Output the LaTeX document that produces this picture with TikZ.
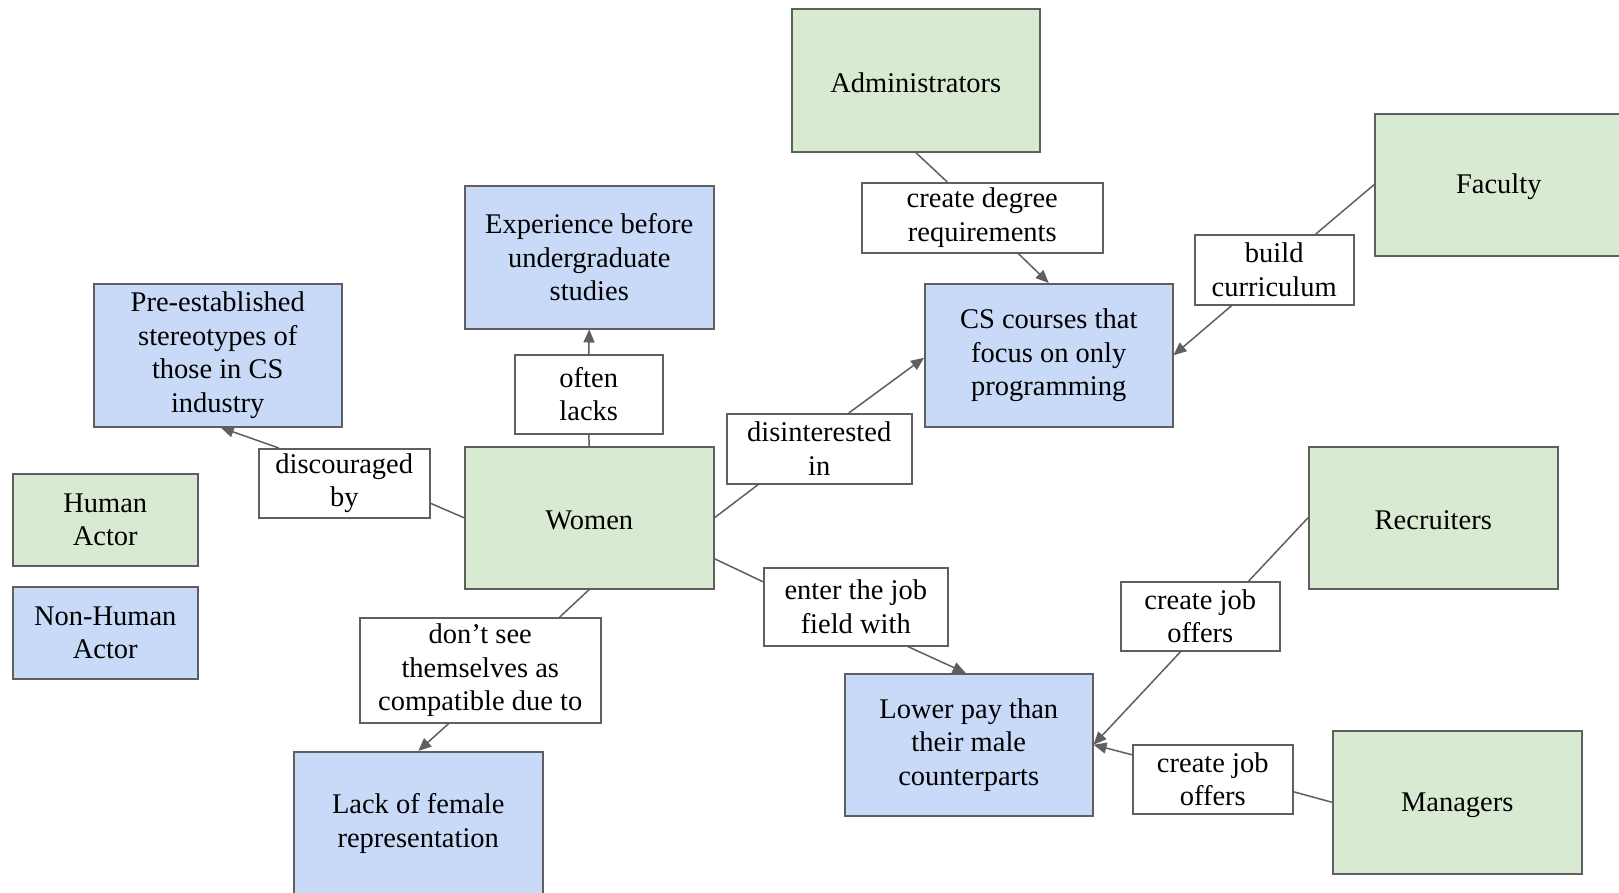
\documentclass[tikz,border=0pt]{standalone}
\usepackage{fontspec}
\setmainfont{Liberation Serif}
\usetikzlibrary{arrows.meta,calc}
\definecolor{actorgreen}{HTML}{D9EAD3}
\definecolor{nonblue}{HTML}{C9DAF8}
\definecolor{edgegray}{HTML}{5F5F5F}
\newcommand{\mystrut}{\rule{0pt}{24pt}}
\tikzset{
 box/.style={draw=edgegray, line width=1.5pt, anchor=north west, inner sep=0pt, align=center, font=\fontsize{28.5}{33.5}\selectfont,
   execute at begin node=\mystrut},
 actor/.style={box, fill=actorgreen},
 thing/.style={box, fill=nonblue},
 lbl/.style={box, fill=white},
 link/.style={draw=edgegray, line width=1.5pt},
 arr/.style={link, -{Triangle[length=13pt,width=11pt]}},
}
\begin{document}
\begin{tikzpicture}[x=1pt,y=-1pt]
\useasboundingbox (0,0) rectangle (1619,892);
\fill[white] (0,0) rectangle (1619,892);
\clip (0,0) rectangle (1619,892);

\node[thing, minimum width=248pt, minimum height=143pt] (pre) at (93,283) {Pre-established\\stereotypes of\\those in CS\\industry};
\node[actor, minimum width=185pt, minimum height=92pt] (human) at (12,473) {Human\\Actor};
\node[thing, minimum width=185pt, minimum height=92pt] (nonhuman) at (12,586) {Non-Human\\Actor};
\node[lbl, minimum width=171pt, minimum height=69pt] (disc) at (258,448) {discouraged\\by};
\node[actor, minimum width=249pt, minimum height=142pt] (women) at (464,446) {Women};
\node[thing, minimum width=249pt, minimum height=143pt] (exp) at (464,185) {Experience before\\undergraduate\\studies};
\node[lbl, minimum width=148pt, minimum height=79pt] (often) at (514,354) {often\\lacks};
\node[lbl, minimum width=185pt, minimum height=70pt] (disint) at (726,413) {disinterested\\in};
\node[actor, minimum width=248pt, minimum height=143pt] (admin) at (791,8) {Administrators};
\node[lbl, minimum width=241pt, minimum height=70pt] (cdr) at (861,182) {create degree\\requirements};
\node[thing, minimum width=248pt, minimum height=143pt] (cs) at (924,283) {CS courses that\\focus on only\\programming};
\node[actor, minimum width=248pt, minimum height=142pt] (faculty) at (1374,113) {Faculty};
\node[lbl, minimum width=159pt, minimum height=70pt] (build) at (1194,234) {build\\curriculum};
\node[lbl, minimum width=241pt, minimum height=105pt] (dontsee) at (359,617) {don’t see\\themselves as\\compatible due to};
\node[thing, minimum width=249pt, minimum height=143pt] (lack) at (293,751) {Lack of female\\representation};
\node[lbl, minimum width=184pt, minimum height=78pt] (enter) at (763,567) {enter the job\\field with};
\node[thing, minimum width=248pt, minimum height=142pt] (lower) at (844,673) {Lower pay than\\their male\\counterparts};
\node[actor, minimum width=249pt, minimum height=142pt] (recr) at (1308,446) {Recruiters};
\node[lbl, minimum width=159pt, minimum height=69pt] (cjo1) at (1120,581) {create job\\offers};
\node[lbl, minimum width=160pt, minimum height=69pt] (cjo2) at (1132,744) {create job\\offers};
\node[actor, minimum width=249pt, minimum height=143pt] (managers) at (1332,730) {Managers};

% connectors
\draw[link] (women.west) -- ($(disc.east)+(0,20)$);
\draw[arr] ($(disc.north)+(-65.5,0)$) -- ($(pre.south)+(3,0)$);
\draw[link] (women.north) -- (often.south);
\draw[arr] (often.north) -- (exp.south);
\draw[link] (women.east) -- ($(disint.south)+(-61,0)$);
\draw[arr] ($(disint.north)+(29.5,0)$) -- ($(cs.west)+(0,2.5)$);
\draw[link] (admin.south) -- ($(cdr.north)+(-35,0)$);
\draw[arr] ($(cdr.south)+(36,0)$) -- (cs.north);
\draw[link] (faculty.west) -- ($(build.north)+(41.5,0)$);
\draw[arr] ($(build.south)+(-42.5,0)$) -- (cs.east);
\draw[link] (women.south) -- ($(dontsee.north)+(79.5,0)$);
\draw[arr] ($(dontsee.south)+(-31.5,0)$) -- (lack.north);
\draw[link] ($(women.east)+(0,41)$) -- ($(enter.west)+(0,-25)$);
\draw[arr] ($(enter.south)+(52,0)$) -- ($(lower.north)+(-3,0)$);
\draw[link] (recr.west) -- ($(cjo1.north)+(48.5,0)$);
\draw[arr] ($(cjo1.south)+(-19.5,0)$) -- (lower.east);
\draw[link] (managers.west) -- ($(cjo2.east)+(0,12.5)$);
\draw[arr] ($(cjo2.west)+(0,-24.5)$) -- (lower.east);
\end{tikzpicture}
\end{document}
